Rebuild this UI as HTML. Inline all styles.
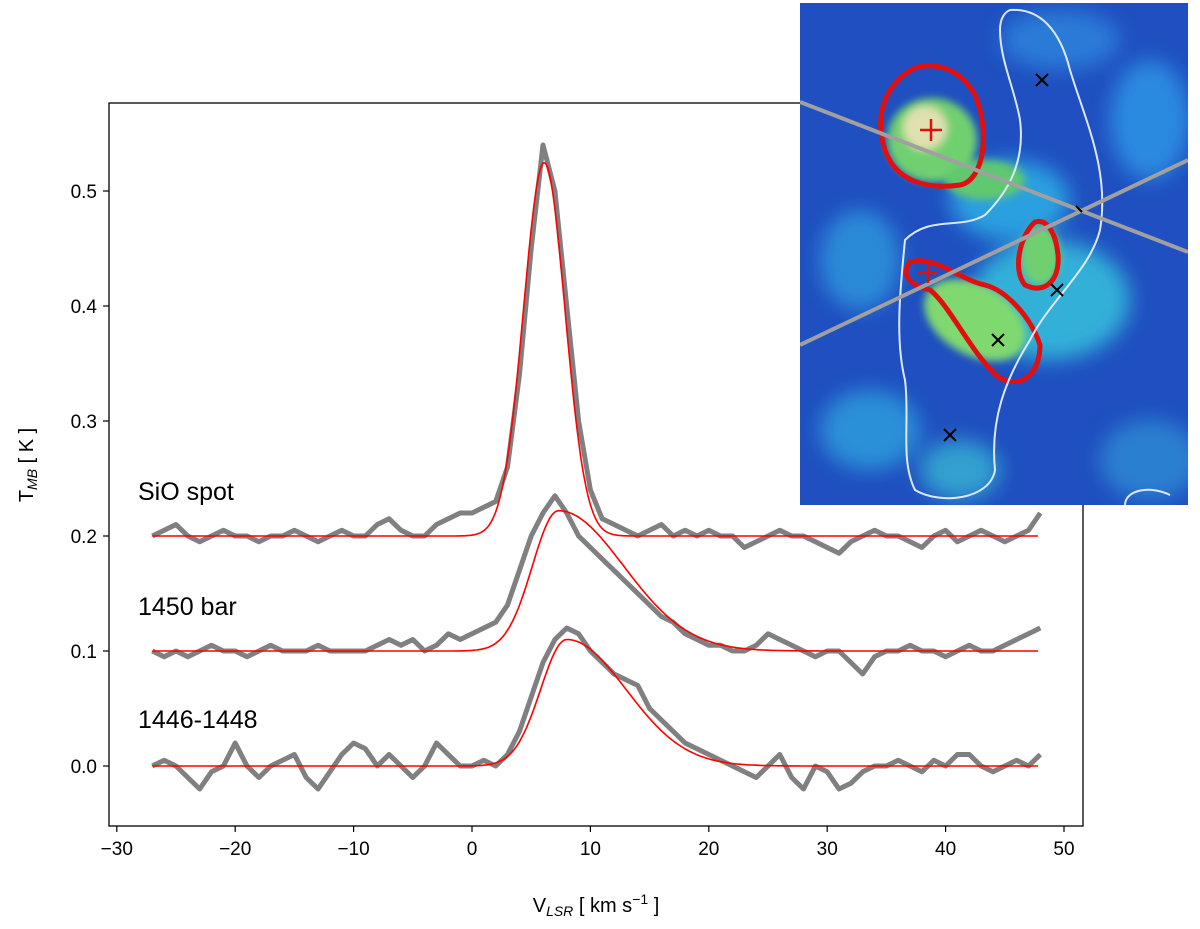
<!DOCTYPE html>
<html><head><meta charset="utf-8"><style>
body{margin:0;background:#fff;}
svg text{font-family:"Liberation Sans","DejaVu Sans",sans-serif;}
</style></head><body>
<svg id="chart" width="1200" height="924" xmlns="http://www.w3.org/2000/svg">
<defs>
<filter id="bl" x="-50%" y="-50%" width="200%" height="200%"><feGaussianBlur stdDeviation="10"/></filter>
<filter id="bl2"><feGaussianBlur stdDeviation="4"/></filter>
<clipPath id="ic"><rect x="800" y="3" width="388" height="502"/></clipPath>
</defs>
<rect x="109" y="103" width="974" height="723" fill="none" stroke="#000" stroke-width="1.3"/>
<g id="ticks"></g>
<g id="series"></g>
<text x="138" y="500" font-size="25">SiO spot</text>
<text x="138" y="615" font-size="25">1450 bar</text>
<text x="138" y="728" font-size="25">1446-1448</text>
<text transform="translate(33,465) rotate(-90)" font-size="20" text-anchor="middle">T<tspan font-size="14" dy="4" font-style="italic">MB</tspan><tspan dy="-4">  [ K ]</tspan></text>
<text x="596" y="912" font-size="20" text-anchor="middle">V<tspan font-size="14" dy="4" font-style="italic">LSR</tspan><tspan dy="-4"> [ km s</tspan><tspan font-size="14" dy="-8">−1</tspan><tspan dy="8"> ]</tspan></text>
<g clip-path="url(#ic)">
<rect x="800" y="3" width="388" height="502" fill="#1f4fc0"/>
<g filter="url(#bl)">
<ellipse cx="1060" cy="40" rx="60" ry="30" fill="#2a7ad8"/>
<ellipse cx="1150" cy="120" rx="40" ry="60" fill="#2a8ae0"/>
<ellipse cx="1010" cy="200" rx="60" ry="40" fill="#2aa0e0"/>
<ellipse cx="1050" cy="300" rx="80" ry="60" fill="#30b0d8"/>
<ellipse cx="860" cy="260" rx="40" ry="50" fill="#2a8ad8"/>
<ellipse cx="870" cy="430" rx="50" ry="40" fill="#2a90d8"/>
<ellipse cx="1150" cy="460" rx="50" ry="40" fill="#2a80d0"/>
<ellipse cx="960" cy="470" rx="40" ry="30" fill="#30a0d0"/>
</g>
<g filter="url(#bl2)">
<ellipse cx="932" cy="140" rx="45" ry="42" fill="#70d070"/>
<ellipse cx="985" cy="180" rx="40" ry="20" fill="#60c870"/>
<ellipse cx="1040" cy="255" rx="20" ry="30" fill="#70d070"/>
<ellipse cx="975" cy="320" rx="55" ry="35" fill="#80d870" transform="rotate(30 975 320)"/>
<ellipse cx="925" cy="128" rx="22" ry="22" fill="#e0e0b0"/>
</g>
<path d="M915,68 C890,80 872,110 885,150 C895,180 925,190 960,185 C985,180 990,130 975,95 C960,68 935,62 915,68 Z" fill="none" stroke="#e01010" stroke-width="5"/>
<path d="M1035,222 C1020,235 1012,270 1025,285 C1045,295 1060,280 1058,255 C1056,235 1048,218 1035,222 Z" fill="none" stroke="#e01010" stroke-width="5"/>
<path d="M910,262 C900,275 910,285 930,290 C950,305 975,360 1000,378 C1025,390 1040,370 1040,345 C1030,315 1005,290 985,285 C960,280 935,255 910,262 Z" fill="none" stroke="#e01010" stroke-width="5"/>
<path d="M1010,10 C1040,8 1060,30 1070,70 C1085,120 1110,170 1100,230 C1090,270 1050,300 1030,340 C1005,380 990,420 995,470 C990,500 940,505 915,490 C900,460 910,420 905,380 C895,340 900,290 905,240 C930,215 960,230 985,215 C1010,190 1025,160 1020,120 C1015,90 1000,60 1000,30 C1000,18 1005,12 1010,10 Z" fill="none" stroke="#dde8ff" stroke-width="2"/>
<path d="M1125,505 C1125,490 1150,485 1170,495" fill="none" stroke="#dde8ff" stroke-width="2"/>
<line x1="800" y1="102" x2="1188" y2="252" stroke="#a0a0a0" stroke-width="4"/>
<line x1="800" y1="345" x2="1188" y2="160" stroke="#a0a0a0" stroke-width="4"/>
<g stroke="#e01010" stroke-width="2.5"><line x1="920" y1="130" x2="942" y2="130"/><line x1="931" y1="119" x2="931" y2="141"/><line x1="918" y1="273" x2="938" y2="273"/><line x1="928" y1="263" x2="928" y2="283"/></g>
<g stroke="#000" stroke-width="2">
<path d="M1036,74 l12,12 M1048,74 l-12,12"/><path d="M1051,284 l12,12 M1063,284 l-12,12"/><path d="M992,334 l12,12 M1004,334 l-12,12"/><path d="M944,429 l12,12 M956,429 l-12,12"/><path d="M1076,206 l6,6"/>
</g>
</g>
</svg>
<script>
const xTicks=[-30,-20,-10,0,10,20,30,40,50];
const yTicks=[0.0,0.1,0.2,0.3,0.4,0.5];
const vel=[];for(let v=-27;v<=48;v++)vel.push(v);
const sioSpot=[0.2,0.205,0.21,0.2,0.195,0.2,0.205,0.2,0.2,0.195,0.2,0.2,0.205,0.2,0.195,0.2,0.205,0.2,0.2,0.21,0.215,0.205,0.2,0.2,0.21,0.215,0.22,0.22,0.225,0.23,0.26,0.34,0.45,0.54,0.5,0.4,0.3,0.24,0.215,0.21,0.205,0.2,0.205,0.21,0.2,0.205,0.2,0.205,0.2,0.2,0.19,0.195,0.2,0.205,0.2,0.2,0.195,0.19,0.185,0.195,0.2,0.205,0.2,0.2,0.195,0.19,0.2,0.205,0.195,0.2,0.205,0.2,0.195,0.2,0.205,0.22];
const bar1450=[0.1,0.095,0.1,0.095,0.1,0.105,0.1,0.1,0.095,0.1,0.105,0.1,0.1,0.1,0.105,0.1,0.1,0.1,0.1,0.105,0.11,0.105,0.11,0.1,0.105,0.115,0.11,0.115,0.12,0.125,0.14,0.17,0.2,0.22,0.235,0.22,0.2,0.19,0.18,0.17,0.16,0.15,0.14,0.13,0.125,0.115,0.11,0.105,0.105,0.1,0.1,0.105,0.115,0.11,0.105,0.1,0.095,0.1,0.1,0.09,0.08,0.095,0.1,0.1,0.105,0.1,0.1,0.095,0.1,0.105,0.1,0.1,0.105,0.11,0.115,0.12];
const r1446=[0.0,0.005,0.0,-0.01,-0.02,-0.005,0.0,0.02,0.0,-0.01,0.0,0.005,0.01,-0.01,-0.02,-0.005,0.01,0.02,0.015,0.0,0.01,0.0,-0.01,0.0,0.02,0.01,0.0,0.0,0.005,0.0,0.01,0.03,0.06,0.09,0.11,0.12,0.115,0.1,0.09,0.08,0.075,0.07,0.05,0.04,0.03,0.02,0.015,0.01,0.005,0.0,-0.005,-0.01,0.0,0.01,-0.01,-0.02,0.0,-0.005,-0.02,-0.015,-0.005,0.0,0.0,0.005,0.0,-0.005,0.005,0.0,0.01,0.01,0.0,-0.005,0.0,0.005,0.0,0.01];
// fit parameters: baseline, amplitude, centre, left sigma, right sigma
const fitBase=[0.2,0.1,0.0];
const fitAmp=[0.325,0.122,0.11];
const fitCen=[6.1,7.3,8.0];
const fitSigL=[1.75,2.2,2.2];
const fitSigR=[1.75,5.5,5.0];
const X=v=>472+v*11.84, Y=t=>766-t*1150;
const ns="http://www.w3.org/2000/svg";
const tk=document.getElementById('ticks');
function mk(tag,attrs,parent){const e=document.createElementNS(ns,tag);for(const k in attrs)e.setAttribute(k,attrs[k]);parent.appendChild(e);return e;}
xTicks.forEach(v=>{const g=mk('g',{},tk);


mk('line',{x1:X(v),x2:X(v),y1:826,y2:832,stroke:'#000','stroke-width':1.2},g);
const t=mk('text',{x:X(v),y:855,'font-size':19,'text-anchor':'middle'},g);t.textContent=v<0?'−'+(-v):String(v);});
yTicks.forEach(v=>{const g=mk('g',{},tk);


mk('line',{x1:103,x2:109,y1:Y(v),y2:Y(v),stroke:'#000','stroke-width':1.2},g);
const t=mk('text',{x:97,y:Y(v)+7,'font-size':19,'text-anchor':'end'},g);t.textContent=v.toFixed(1);});
const sg=document.getElementById('series');
const names=['sio-spot','1450-bar','1446-1448'];
[sioSpot,bar1450,r1446].forEach((arr,i)=>{
const p=mk('path',{d:arr.map((t,j)=>(j?'L':'M')+X(vel[j]).toFixed(1)+','+Y(t).toFixed(1)).join(''),fill:'none',stroke:'#808080','stroke-width':5,'stroke-linejoin':'round'},sg);


});
for(let i=0;i<3;i++){let d='';
for(let v=-27;v<=48;v+=0.2){const s=v<fitCen[i]?fitSigL[i]:fitSigR[i];
const t=fitBase[i]+fitAmp[i]*Math.exp(-0.5*((v-fitCen[i])/s)**2);
d+=(d?'L':'M')+X(v).toFixed(1)+','+Y(t).toFixed(1);}
const p=mk('path',{d:d,fill:'none',stroke:'#ff0000','stroke-width':1.6},sg);


}
</script>
</body></html>
